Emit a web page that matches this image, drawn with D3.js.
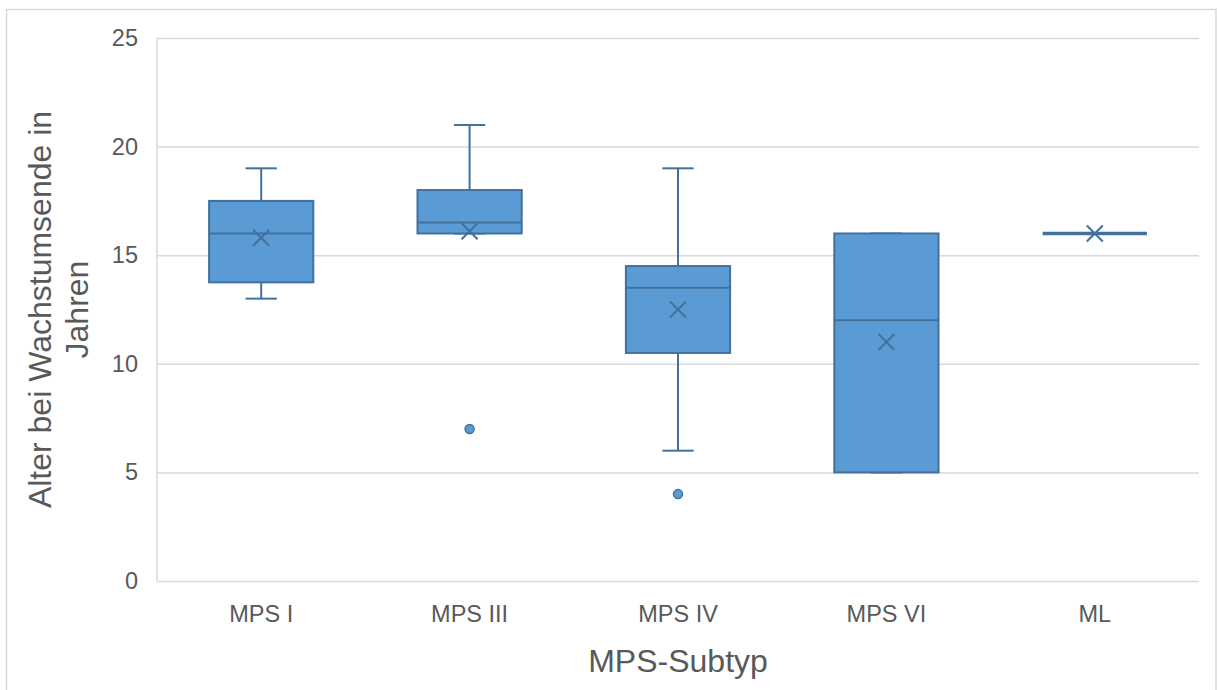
<!DOCTYPE html>
<html>
<head>
<meta charset="utf-8">
<script src="https://cdn.jsdelivr.net/npm/d3@7"></script>
<style>
    body { margin: 0; background: #ffffff; }
    svg { display: block; font-family: "Liberation Sans", Arial, sans-serif; }
</style>
</head>
<body>
<script>
    //create data
    var categories = ["MPS I", "MPS III", "MPS IV", "MPS VI", "ML"];
    var mins = [13, 16, 6, 5, 16];
    var q1s = [13.75, 16, 10.5, 5, 16];
    var medians = [16, 16.5, 13.5, 12, 16];
    var q3s = [17.5, 18, 14.5, 16, 16];
    var maxs = [19, 21, 19, 16, 16];
    var means = [15.8, 16.1, 12.5, 11, 16];
    var outlierCats = ["MPS III", "MPS IV"];
    var outlierValues = [7, 4];
    var yTicks = [0, 5, 10, 15, 20, 25];

    //create the width and height of the svg
    var svgWidth = 1218;
    var svgHeight = 690;

    //create margin (plot area 157..1199 x 38..581)
    var margin = {
        left: 157,
        right: 19,
        top: 38,
        bottom: 109
    }
    var width = svgWidth - margin.left - margin.right;
    var height = svgHeight - margin.top - margin.bottom;

    var textColor = "#595959";
    var gridColor = "#d9d9d9";
    var fillColor = "#5b9bd5";
    var lineColor = "#41719c";

    //create scales
    var xScale = d3.scaleBand()
        .domain(categories)
        .range([0, width])
        .paddingInner(0.5)
        .paddingOuter(0.25);

    var yScale = d3.scaleLinear()
        .domain([0, 25])
        .range([height, 0]);

    //create svg
    var svg = d3.select("body")
        .append("svg")
        .attr("width", svgWidth)
        .attr("height", svgHeight);

    //outer chart border
    svg.append("rect")
        .attr("x", 6.5)
        .attr("y", 9.5)
        .attr("width", 1209.5)
        .attr("height", 700)
        .attr("fill", "none")
        .attr("stroke", gridColor)
        .attr("stroke-width", 1.5);

    var chartGroup = svg.append("g")
        .attr("transform", "translate(" + margin.left + "," + margin.top + ")");

    //gridlines
    chartGroup.append("g")
        .attr("class", "grid")
        .call(d3.axisLeft(yScale).tickValues(yTicks).tickSize(-width).tickFormat(""))
        .call(function (g) {
            g.select(".domain").remove();
            g.selectAll("line").attr("stroke", gridColor).attr("stroke-width", 1.5);
        });

    //left axis line
    chartGroup.append("line")
        .attr("x1", 0).attr("x2", 0)
        .attr("y1", 0).attr("y2", height)
        .attr("stroke", gridColor)
        .attr("stroke-width", 1.5);

    //y axis labels
    chartGroup.append("g")
        .attr("class", "axis y")
        .call(d3.axisLeft(yScale).tickValues(yTicks).tickSize(0).tickPadding(19))
        .call(function (g) {
            g.select(".domain").remove();
            g.selectAll("text")
                .attr("fill", textColor)
                .style("font-size", "23.5px");
        });

    //x axis labels
    chartGroup.append("g")
        .attr("class", "axis x")
        .attr("transform", "translate(0," + height + ")")
        .call(d3.axisBottom(xScale).tickSize(0).tickPadding(24))
        .call(function (g) {
            g.select(".domain").remove();
            g.selectAll("text")
                .attr("fill", textColor)
                .style("font-size", "23.5px");
        });

    var bw = xScale.bandwidth();
    var capHalf = bw * 0.15;
    var idx = d3.range(categories.length);

    //one group per box
    var boxes = chartGroup.selectAll(".box")
        .data(idx)
        .enter()
        .append("g")
        .attr("class", "box")
        .attr("transform", function (i) {
            return "translate(" + (xScale(categories[i]) + bw / 2) + ",0)";
        });

    //whiskers
    boxes.append("line")
        .attr("x1", 0).attr("x2", 0)
        .attr("y1", function (i) { return yScale(q3s[i]); })
        .attr("y2", function (i) { return yScale(maxs[i]); })
        .attr("stroke", lineColor).attr("stroke-width", 2);

    boxes.append("line")
        .attr("x1", 0).attr("x2", 0)
        .attr("y1", function (i) { return yScale(q1s[i]); })
        .attr("y2", function (i) { return yScale(mins[i]); })
        .attr("stroke", lineColor).attr("stroke-width", 2);

    boxes.append("line")
        .attr("x1", -capHalf).attr("x2", capHalf)
        .attr("y1", function (i) { return yScale(maxs[i]); })
        .attr("y2", function (i) { return yScale(maxs[i]); })
        .attr("stroke", lineColor).attr("stroke-width", 2);

    boxes.append("line")
        .attr("x1", -capHalf).attr("x2", capHalf)
        .attr("y1", function (i) { return yScale(mins[i]); })
        .attr("y2", function (i) { return yScale(mins[i]); })
        .attr("stroke", lineColor).attr("stroke-width", 2);

    //box rect
    boxes.append("rect")
        .attr("x", -bw / 2)
        .attr("width", bw)
        .attr("y", function (i) { return yScale(q3s[i]); })
        .attr("height", function (i) { return yScale(q1s[i]) - yScale(q3s[i]); })
        .attr("fill", fillColor)
        .attr("stroke", lineColor)
        .attr("stroke-width", 2);

    //median (thicker when the box collapses to a line)
    boxes.append("line")
        .attr("x1", -bw / 2).attr("x2", bw / 2)
        .attr("y1", function (i) { return yScale(medians[i]); })
        .attr("y2", function (i) { return yScale(medians[i]); })
        .attr("stroke", lineColor)
        .attr("stroke-width", function (i) { return q3s[i] === q1s[i] ? 3.5 : 2; });

    //mean marker (x)
    var m = 8;
    boxes.append("path")
        .attr("d", function (i) {
            var y = yScale(means[i]);
            return "M" + (-m) + "," + (y - m) + "L" + m + "," + (y + m) +
                "M" + (-m) + "," + (y + m) + "L" + m + "," + (y - m);
        })
        .attr("fill", "none")
        .attr("stroke", lineColor)
        .attr("stroke-width", 2);

    //outliers
    chartGroup.selectAll(".outlier")
        .data(outlierValues)
        .enter()
        .append("circle")
        .attr("class", "outlier")
        .attr("cx", function (d, i) { return xScale(outlierCats[i]) + bw / 2; })
        .attr("cy", function (d) { return yScale(d); })
        .attr("r", 4.5)
        .attr("fill", fillColor)
        .attr("stroke", lineColor)
        .attr("stroke-width", 1.5);

    //axis titles
    svg.append("text")
        .attr("x", margin.left + width / 2)
        .attr("y", 672)
        .attr("text-anchor", "middle")
        .attr("fill", textColor)
        .style("font-size", "32px")
        .text("MPS-Subtyp");

    var yTitle = svg.append("text")
        .attr("transform", "translate(51," + (margin.top + height / 2) + ") rotate(-90)")
        .attr("text-anchor", "middle")
        .attr("fill", textColor)
        .style("font-size", "32px");

    yTitle.append("tspan")
        .attr("x", 0).attr("y", 0)
        .text("Alter bei Wachstumsende in");

    yTitle.append("tspan")
        .attr("x", 0).attr("y", 37)
        .text("Jahren");
</script>
</body>
</html>
